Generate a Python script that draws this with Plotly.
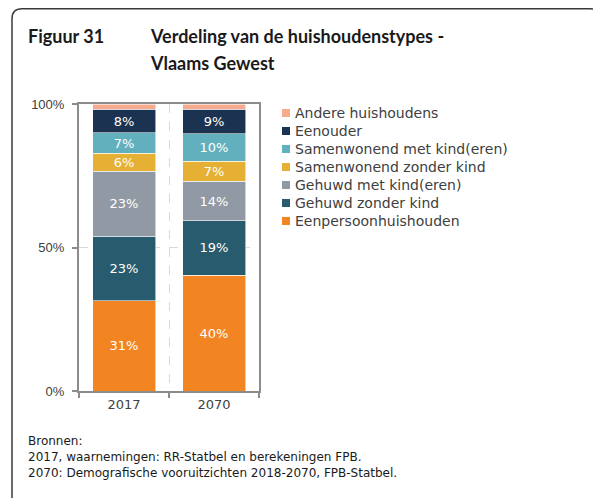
import plotly.graph_objects as go

years = ["2017", "2070"]
categories = [
    "Eenpersoonhuishouden",
    "Gehuwd zonder kind",
    "Gehuwd met kind(eren)",
    "Samenwonend zonder kind",
    "Samenwonend met kind(eren)",
    "Eenouder",
    "Andere huishoudens",
]
share_2017 = [31.4, 22.6, 22.6, 6.3, 7.0, 8.3, 1.8]
share_2070 = [40.4, 18.9, 13.8, 6.9, 9.6, 8.6, 1.8]
colors = ["#F28522", "#285B6E", "#9199A4", "#E5B033", "#62AFBE", "#1B3350", "#F5AB8C"]
show_label = [True, True, True, True, True, True, False]

sources = [
    "Bronnen:",
    "2017, waarnemingen: RR-Statbel en berekeningen FPB.",
    "2070: Demografische vooruitzichten 2018-2070, FPB-Statbel.",
]

# page has an 8px body margin, so the figure starts at (8, 8)
OFF = 8
W, H = 601 - OFF, 498 - OFF
L, R, T, B = 79 - OFF, 342, 104 - OFF, 107
PW, PH = W - L - R, H - T - B


def px(x):
    # x in screenshot pixels -> paper units
    return (x - OFF - L) / PW


def py(y):
    return (H - B - (y - OFF)) / PH


FONT = "DejaVu Sans"
fig = go.Figure()

for i, cat in enumerate(categories):
    vals = [share_2017[i], share_2070[i]]
    fig.add_trace(
        go.Bar(
            x=years,
            y=vals,
            name=cat,
            marker=dict(color=colors[i], line=dict(color="rgba(255,255,255,0.7)", width=0.8)),
            text=[f"{round(v)}%" for v in vals] if show_label[i] else None,
            textposition="inside" if show_label[i] else "none",
            insidetextanchor="middle",
            textangle=0,
            constraintext="none",
            textfont=dict(color="white", size=13, family=FONT),
            hoverinfo="skip",
            showlegend=False,
        )
    )

# legend drawn by hand: small squares + labels, top entry = last category
for row, i in enumerate(reversed(range(len(categories)))):
    yc = 113 + row * 18
    fig.add_shape(type="rect", xref="paper", yref="paper",
                  x0=px(282), x1=px(290), y0=py(yc + 4), y1=py(yc - 4),
                  fillcolor=colors[i], line=dict(width=0))
    fig.add_annotation(text=categories[i], x=px(293), y=py(yc), xref="paper", yref="paper",
                       xanchor="left", yanchor="middle", showarrow=False,
                       font=dict(family=FONT, size=14, color="#404040"))

# outer frame with rounded corners (only top/left visible in the crop)
r = 10
x0, y0, x1, y1 = 12, 8.8, 600, 510
frame = (
    f"M {px(x0)},{py(y1)} L {px(x0)},{py(y0 + r)} "
    f"Q {px(x0)},{py(y0)} {px(x0 + r)},{py(y0)} "
    f"L {px(x1 - r)},{py(y0)} Q {px(x1)},{py(y0)} {px(x1)},{py(y0 + r)} "
    f"L {px(x1)},{py(y1)}"
)
fig.add_shape(type="path", path=frame, xref="paper", yref="paper",
              line=dict(color="#3a3a3a", width=1.5), layer="above")

title_font = dict(family="Lato", size=18, color="#1a1a1a")
for txt, x, y in [("<b>Figuur 31</b>", 26, 36),
                  ("<b>Verdeling van de huishoudenstypes -</b>", 148, 36),
                  ("<b>Vlaams Gewest</b>", 148, 63)]:
    fig.add_annotation(text=txt, x=px(x), y=py(y), xref="paper", yref="paper",
                       xanchor="left", yanchor="middle", showarrow=False, font=title_font)

for k, line in enumerate(sources):
    fig.add_annotation(text=line, x=px(26), y=py(441 + k * 16), xref="paper", yref="paper",
                       xanchor="left", yanchor="middle", showarrow=False,
                       font=dict(family=FONT, size=12, color="#1a1a1a"))

fig.update_layout(
    width=W,
    height=H,
    barmode="stack",
    bargap=0.3,
    margin=dict(l=L, r=R, t=T, b=B),
    paper_bgcolor="white",
    plot_bgcolor="white",
    font=dict(family=FONT, size=13, color="#404040"),
    showlegend=False,
)
fig.update_xaxes(
    showline=True, linecolor="#8c8c8c", linewidth=2, mirror=True,
    ticks="outside", ticklen=5, tickcolor="#8c8c8c", tickwidth=2,
    tickson="boundaries", showgrid=True, gridcolor="#d9d9d9", griddash="dash", gridwidth=1,
    tickfont=dict(size=13, color="#404040"),
)
fig.update_yaxes(
    range=[0, 100], dtick=50, ticksuffix="%",
    showline=True, linecolor="#8c8c8c", linewidth=2, mirror=True,
    ticks="outside", ticklen=5, tickcolor="#8c8c8c", tickwidth=2,
    showgrid=True, gridcolor="#d9d9d9", griddash="dash", gridwidth=1,
    zeroline=False, ticklabelstandoff=5,
    tickfont=dict(family="Liberation Sans", size=13, color="#404040"),
)

fig.write_html("out.html")
